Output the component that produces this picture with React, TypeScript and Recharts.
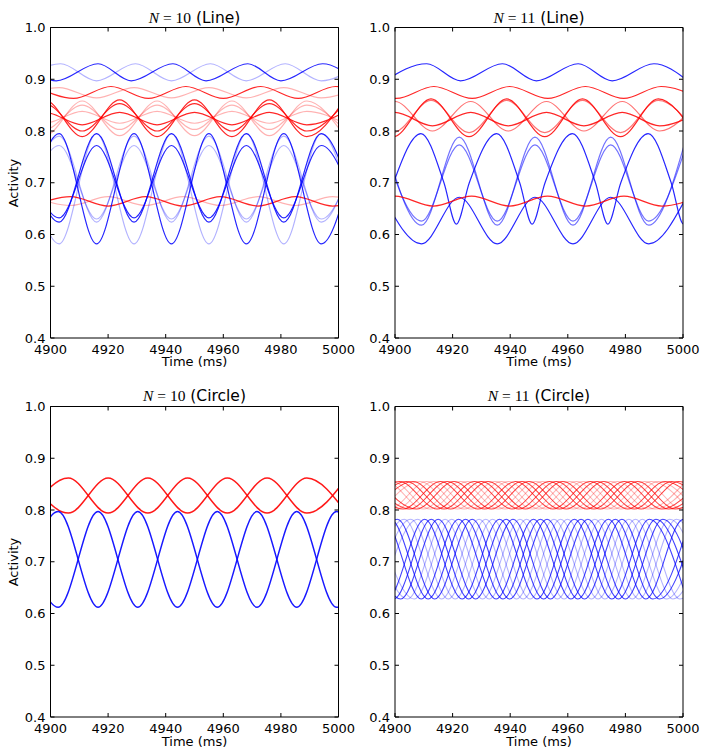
import React from "react";
import { LineChart, Line, XAxis, YAxis } from "recharts";

type Pt = [number, number];

// ---------------- axis ticks ----------------
const X_TICKS = [4900, 4920, 4940, 4960, 4980, 5000];
const Y_TICKS = [0.4, 0.5, 0.6, 0.7, 0.8, 0.9, 1.0];

// ---------------- N=10 (Line) ----------------
const TL_BLUE_TOP_DARK: Pt[] = [[4890.5,0.930],[4902,0.897],[4916.5,0.930],[4928,0.897],[4942.5,0.930],[4954,0.897],[4968.5,0.930],[4980,0.897],[4994.5,0.930],[5006,0.897]];
const TL_BLUE_TOP_LIGHT: Pt[] = [[4890,0.897],[4903.5,0.930],[4916,0.897],[4929.5,0.930],[4942,0.897],[4955.5,0.930],[4968,0.897],[4981.5,0.930],[4994,0.897],[5007.5,0.930]];
const TL_RED_TOP_DARK: Pt[] = [[4895,0.886],[4908,0.863],[4921,0.886],[4934,0.863],[4947,0.886],[4960,0.863],[4973,0.886],[4986,0.863],[4999,0.886],[5012,0.863]];
const TL_RED_TOP_LIGHT: Pt[] = [[4890,0.864],[4903,0.884],[4916,0.864],[4929,0.884],[4942,0.864],[4955,0.884],[4968,0.864],[4981,0.884],[4994,0.864],[5007,0.884]];
const TL_RED_MID_DARK_1: Pt[] = [[4885,0.789],[4898,0.860],[4911,0.789],[4924,0.860],[4937,0.789],[4950,0.860],[4963,0.789],[4976,0.860],[4989,0.789],[5002,0.860]];
const TL_RED_MID_DARK_2: Pt[] = [[4885,0.800],[4898,0.853],[4911,0.800],[4924,0.853],[4937,0.800],[4950,0.853],[4963,0.800],[4976,0.853],[4989,0.800],[5002,0.853]];
const TL_RED_MID_DARK_3: Pt[] = [[4885,0.812],[4898,0.836],[4911,0.812],[4924,0.836],[4937,0.812],[4950,0.836],[4963,0.812],[4976,0.836],[4989,0.812],[5002,0.836]];
const TL_RED_MID_LIGHT_1: Pt[] = [[4885,0.858],[4898,0.791],[4911,0.858],[4924,0.791],[4937,0.858],[4950,0.791],[4963,0.858],[4976,0.791],[4989,0.858],[5002,0.791]];
const TL_RED_MID_LIGHT_2: Pt[] = [[4885,0.850],[4898,0.803],[4911,0.850],[4924,0.803],[4937,0.850],[4950,0.803],[4963,0.850],[4976,0.803],[4989,0.850],[5002,0.803]];
const TL_RED_MID_LIGHT_3: Pt[] = [[4885,0.838],[4898,0.815],[4911,0.838],[4924,0.815],[4937,0.838],[4950,0.815],[4963,0.838],[4976,0.815],[4989,0.838],[5002,0.815]];
const TL_RED_BOT_DARK: Pt[] = [[4894,0.655],[4907,0.673],[4920,0.655],[4933,0.673],[4946,0.655],[4959,0.673],[4972,0.655],[4985,0.673],[4998,0.655],[5011,0.673]];
const TL_RED_BOT_LIGHT: Pt[] = [[4894,0.673],[4907,0.656],[4920,0.673],[4933,0.656],[4946,0.673],[4959,0.656],[4972,0.673],[4985,0.656],[4998,0.673],[5011,0.656]];
const TL_BLUE_BIG_DARK: Pt[] = [[4890,0.582],[4903,0.795],[4916,0.582],[4929,0.795],[4942,0.582],[4955,0.795],[4968,0.582],[4981,0.795],[4994,0.582],[5007,0.795]];
const TL_BLUE_MED_DARK: Pt[] = [[4890,0.795],[4903,0.624],[4916,0.795],[4929,0.624],[4942,0.795],[4955,0.624],[4968,0.795],[4981,0.624],[4994,0.795],[5007,0.624]];
const TL_BLUE_SMALL_DARK: Pt[] = [[4890,0.772],[4903,0.632],[4916,0.772],[4929,0.632],[4942,0.772],[4955,0.632],[4968,0.772],[4981,0.632],[4994,0.772],[5007,0.632]];
const TL_BLUE_BIG_LIGHT: Pt[] = [[4890,0.795],[4903,0.582],[4916,0.795],[4929,0.582],[4942,0.795],[4955,0.582],[4968,0.795],[4981,0.582],[4994,0.795],[5007,0.582]];
const TL_BLUE_MED_LIGHT: Pt[] = [[4890,0.624],[4903,0.790],[4916,0.624],[4929,0.790],[4942,0.624],[4955,0.790],[4968,0.624],[4981,0.790],[4994,0.624],[5007,0.790]];
const TL_BLUE_SMALL_LIGHT: Pt[] = [[4890,0.630],[4903,0.772],[4916,0.630],[4929,0.772],[4942,0.630],[4955,0.772],[4968,0.630],[4981,0.772],[4994,0.630],[5007,0.772]];

// ---------------- N=11 (Line) ----------------
const TR_BLUE_TOP: Pt[] = [[4896.5,0.897],[4911,0.930],[4922.8,0.897],[4937.3,0.930],[4949.1,0.897],[4963.6,0.930],[4975.4,0.897],[4989.9,0.930],[5001.7,0.897]];
const TR_BLUE_DOME: Pt[] = [[4895,0.620],[4899.5,0.700],[4909,0.795],[4917,0.700],[4921.3,0.620],[4925.8,0.700],[4935.3,0.795],[4943.3,0.700],[4947.6,0.620],[4952.1,0.700],[4961.6,0.795],[4969.6,0.700],[4973.9,0.620],[4978.4,0.700],[4987.9,0.795],[4995.9,0.700],[5000.2,0.620],[5004.7,0.700]];
const TR_BLUE_SMALL_1: Pt[] = [[4896,0.788],[4909.2,0.618],[4922.3,0.788],[4935.5,0.618],[4948.6,0.788],[4961.8,0.618],[4974.9,0.788],[4988.1,0.618],[5001.2,0.788]];
const TR_BLUE_SMALL_2: Pt[] = [[4896,0.773],[4909.2,0.626],[4922.3,0.773],[4935.5,0.626],[4948.6,0.773],[4961.8,0.626],[4974.9,0.773],[4988.1,0.626],[5001.2,0.773]];
const TR_BLUE_BOTTOM: Pt[] = [[4896,0.672],[4909.2,0.582],[4922.3,0.672],[4935.5,0.582],[4948.6,0.672],[4961.8,0.582],[4974.9,0.672],[4988.1,0.582],[5001.2,0.672]];
const TR_RED_TOP: Pt[] = [[4887.2,0.886],[4900.5,0.863],[4913.5,0.886],[4926.8,0.863],[4939.8,0.886],[4953.1,0.863],[4966.1,0.886],[4979.4,0.863],[4992.4,0.886],[5005.7,0.863]];
const TR_RED_DOME_DARK: Pt[] = [[4886.2,0.862],[4899.4,0.789],[4912.5,0.862],[4925.7,0.789],[4938.8,0.862],[4952,0.789],[4965.1,0.862],[4978.3,0.789],[4991.4,0.862],[5004.6,0.789]];
const TR_RED_DOME_LIGHT: Pt[] = [[4886.2,0.859],[4899.4,0.797],[4912.5,0.859],[4925.7,0.797],[4938.8,0.859],[4952,0.797],[4965.1,0.859],[4978.3,0.797],[4991.4,0.859],[5004.6,0.797]];
const TR_RED_ANTI_DARK: Pt[] = [[4887,0.810],[4900,0.836],[4913,0.810],[4926.3,0.836],[4939.3,0.810],[4952.6,0.836],[4965.6,0.810],[4978.9,0.836],[4991.9,0.810],[5005.2,0.836]];
const TR_RED_ANTI_LIGHT: Pt[] = [[4887,0.800],[4900,0.857],[4913,0.800],[4926.3,0.857],[4939.3,0.800],[4952.6,0.857],[4965.6,0.800],[4978.9,0.857],[4991.9,0.800],[5005.2,0.857]];
const TR_RED_BOTTOM: Pt[] = [[4887,0.655],[4900,0.674],[4913.3,0.655],[4926.6,0.674],[4939.8,0.655],[4953,0.674],[4966.2,0.655],[4979.5,0.674],[4992.7,0.655],[5006,0.674]];

// ---------------- N=10 (Circle) ----------------
const BL_RED_A: Pt[] = [[4892.4,0.794],[4906.2,0.862],[4920,0.794],[4933.8,0.862],[4947.6,0.794],[4961.4,0.862],[4975.2,0.794],[4989,0.862],[5002.8,0.794]];
const BL_RED_B: Pt[] = [[4892.4,0.862],[4906.2,0.794],[4920,0.862],[4933.8,0.794],[4947.6,0.862],[4961.4,0.794],[4975.2,0.862],[4989,0.794],[5002.8,0.862]];
const BL_BLUE_A: Pt[] = [[4888.9,0.612],[4902.7,0.797],[4916.5,0.612],[4930.3,0.797],[4944.1,0.612],[4957.9,0.797],[4971.7,0.612],[4985.5,0.797],[4999.3,0.612],[5013.1,0.797]];
const BL_BLUE_B: Pt[] = [[4888.9,0.797],[4902.7,0.612],[4916.5,0.797],[4930.3,0.612],[4944.1,0.797],[4957.9,0.612],[4971.7,0.797],[4985.5,0.612],[4999.3,0.797],[5013.1,0.612]];

// ---------------- N=11 (Circle) ----------------
const BR_BLUE: Pt[][] = [
  [[4889.0,0.782],[4902.0,0.628],[4915.0,0.782],[4928.0,0.628],[4941.0,0.782],[4954.0,0.628],[4967.0,0.782],[4980.0,0.628],[4993.0,0.782],[5006.0,0.628]],
  [[4891.4,0.782],[4904.4,0.628],[4917.4,0.782],[4930.4,0.628],[4943.4,0.782],[4956.4,0.628],[4969.4,0.782],[4982.4,0.628],[4995.4,0.782],[5008.4,0.628]],
  [[4893.7,0.782],[4906.7,0.628],[4919.7,0.782],[4932.7,0.628],[4945.7,0.782],[4958.7,0.628],[4971.7,0.782],[4984.7,0.628],[4997.7,0.782],[5010.7,0.628]],
  [[4883.1,0.628],[4896.1,0.782],[4909.1,0.628],[4922.1,0.782],[4935.1,0.628],[4948.1,0.782],[4961.1,0.628],[4974.1,0.782],[4987.1,0.628],[5000.1,0.782],[5013.1,0.628]],
  [[4885.5,0.628],[4898.5,0.782],[4911.5,0.628],[4924.5,0.782],[4937.5,0.628],[4950.5,0.782],[4963.5,0.628],[4976.5,0.782],[4989.5,0.628],[5002.5,0.782]],
  [[4887.8,0.628],[4900.8,0.782],[4913.8,0.628],[4926.8,0.782],[4939.8,0.628],[4952.8,0.782],[4965.8,0.628],[4978.8,0.782],[4991.8,0.628],[5004.8,0.782]],
  [[4890.2,0.628],[4903.2,0.782],[4916.2,0.628],[4929.2,0.782],[4942.2,0.628],[4955.2,0.782],[4968.2,0.628],[4981.2,0.782],[4994.2,0.628],[5007.2,0.782]],
  [[4892.5,0.628],[4905.5,0.782],[4918.5,0.628],[4931.5,0.782],[4944.5,0.628],[4957.5,0.782],[4970.5,0.628],[4983.5,0.782],[4996.5,0.628],[5009.5,0.782]],
  [[4894.9,0.628],[4907.9,0.782],[4920.9,0.628],[4933.9,0.782],[4946.9,0.628],[4959.9,0.782],[4972.9,0.628],[4985.9,0.782],[4998.9,0.628],[5011.9,0.782]],
  [[4884.3,0.782],[4897.3,0.628],[4910.3,0.782],[4923.3,0.628],[4936.3,0.782],[4949.3,0.628],[4962.3,0.782],[4975.3,0.628],[4988.3,0.782],[5001.3,0.628]],
  [[4886.6,0.782],[4899.6,0.628],[4912.6,0.782],[4925.6,0.628],[4938.6,0.782],[4951.6,0.628],[4964.6,0.782],[4977.6,0.628],[4990.6,0.782],[5003.6,0.628]],
];
const BR_RED: Pt[][] = [
  [[4894.5,0.855],[4907.5,0.802],[4920.5,0.855],[4933.5,0.802],[4946.5,0.855],[4959.5,0.802],[4972.5,0.855],[4985.5,0.802],[4998.5,0.855],[5011.5,0.802]],
  [[4883.9,0.802],[4896.9,0.855],[4909.9,0.802],[4922.9,0.855],[4935.9,0.802],[4948.9,0.855],[4961.9,0.802],[4974.9,0.855],[4987.9,0.802],[5000.9,0.855]],
  [[4886.2,0.802],[4899.2,0.855],[4912.2,0.802],[4925.2,0.855],[4938.2,0.802],[4951.2,0.855],[4964.2,0.802],[4977.2,0.855],[4990.2,0.802],[5003.2,0.855]],
  [[4888.6,0.802],[4901.6,0.855],[4914.6,0.802],[4927.6,0.855],[4940.6,0.802],[4953.6,0.855],[4966.6,0.802],[4979.6,0.855],[4992.6,0.802],[5005.6,0.855]],
  [[4891.0,0.802],[4904.0,0.855],[4917.0,0.802],[4930.0,0.855],[4943.0,0.802],[4956.0,0.855],[4969.0,0.802],[4982.0,0.855],[4995.0,0.802],[5008.0,0.855]],
  [[4893.3,0.802],[4906.3,0.855],[4919.3,0.802],[4932.3,0.855],[4945.3,0.802],[4958.3,0.855],[4971.3,0.802],[4984.3,0.855],[4997.3,0.802],[5010.3,0.855]],
  [[4895.7,0.802],[4908.7,0.855],[4921.7,0.802],[4934.7,0.855],[4947.7,0.802],[4960.7,0.855],[4973.7,0.802],[4986.7,0.855],[4999.7,0.802],[5012.7,0.855]],
  [[4885.0,0.855],[4898.0,0.802],[4911.0,0.855],[4924.0,0.802],[4937.0,0.855],[4950.0,0.802],[4963.0,0.855],[4976.0,0.802],[4989.0,0.855],[5002.0,0.802]],
  [[4887.4,0.855],[4900.4,0.802],[4913.4,0.855],[4926.4,0.802],[4939.4,0.855],[4952.4,0.802],[4965.4,0.855],[4978.4,0.802],[4991.4,0.855],[5004.4,0.802]],
  [[4889.8,0.855],[4902.8,0.802],[4915.8,0.855],[4928.8,0.802],[4941.8,0.855],[4954.8,0.802],[4967.8,0.855],[4980.8,0.802],[4993.8,0.855],[5006.8,0.802]],
  [[4892.1,0.855],[4905.1,0.802],[4918.1,0.855],[4931.1,0.802],[4944.1,0.855],[4957.1,0.802],[4970.1,0.855],[4983.1,0.802],[4996.1,0.855],[5009.1,0.802]],
];
// which of the N=11 circle units are drawn in the darker shade
const BR_DARK_UNITS = [0, 3, 4, 5, 9, 10];

// ---------------- styles ----------------
const BLUE = "#0000ff";
const RED = "#ff0000";
const DARK = 0.85;
const MEDIUM = 0.55;
const LIGHT = 0.3;
const FONT = "'DejaVu Sans', sans-serif";

type Series = { pts: Pt[]; color: string; opacity: number };

const s = (pts: Pt[], color: string, opacity: number): Series => ({ pts, color, opacity });

const TL_SERIES: Series[] = [
  s(TL_BLUE_TOP_LIGHT, BLUE, LIGHT),
  s(TL_RED_TOP_LIGHT, RED, LIGHT),
  s(TL_RED_MID_LIGHT_1, RED, LIGHT),
  s(TL_RED_MID_LIGHT_2, RED, LIGHT),
  s(TL_RED_MID_LIGHT_3, RED, LIGHT),
  s(TL_RED_BOT_LIGHT, RED, LIGHT),
  s(TL_BLUE_BIG_LIGHT, BLUE, LIGHT),
  s(TL_BLUE_MED_LIGHT, BLUE, LIGHT),
  s(TL_BLUE_SMALL_LIGHT, BLUE, LIGHT),
  s(TL_BLUE_TOP_DARK, BLUE, DARK),
  s(TL_RED_TOP_DARK, RED, DARK),
  s(TL_RED_MID_DARK_1, RED, DARK),
  s(TL_RED_MID_DARK_2, RED, DARK),
  s(TL_RED_MID_DARK_3, RED, DARK),
  s(TL_RED_BOT_DARK, RED, DARK),
  s(TL_BLUE_BIG_DARK, BLUE, DARK),
  s(TL_BLUE_MED_DARK, BLUE, DARK),
  s(TL_BLUE_SMALL_DARK, BLUE, DARK),
];

const TR_SERIES: Series[] = [
  s(TR_RED_DOME_LIGHT, RED, MEDIUM),
  s(TR_RED_ANTI_LIGHT, RED, MEDIUM),
  s(TR_BLUE_SMALL_2, BLUE, MEDIUM),
  s(TR_BLUE_SMALL_1, BLUE, MEDIUM),
  s(TR_BLUE_TOP, BLUE, DARK),
  s(TR_BLUE_DOME, BLUE, DARK),
  s(TR_BLUE_BOTTOM, BLUE, DARK),
  s(TR_RED_TOP, RED, DARK),
  s(TR_RED_DOME_DARK, RED, DARK),
  s(TR_RED_ANTI_DARK, RED, DARK),
  s(TR_RED_BOTTOM, RED, DARK),
];

const BL_SERIES: Series[] = [
  s(BL_RED_A, RED, 0.9),
  s(BL_RED_B, RED, 0.9),
  s(BL_BLUE_A, BLUE, 0.9),
  s(BL_BLUE_B, BLUE, 0.9),
];

const BR_SERIES: Series[] = [
  ...BR_RED.map((p, i) => s(p, RED, BR_DARK_UNITS.includes(i) ? 0.75 : LIGHT)),
  ...BR_BLUE.map((p, i) => s(p, BLUE, BR_DARK_UNITS.includes(i) ? 0.75 : LIGHT)),
];

// ---------------- ticks ----------------
const LeftTick = (props: any) => {
  const { x, y, payload } = props;
  return (
    <g>
      <line x1={x} y1={y} x2={x + 4} y2={y} stroke="#000" strokeWidth={1} />
      <text x={x - 5} y={y + 4.7} textAnchor="end" fontSize={13} fontFamily={FONT} fill="#000">
        {Number(payload.value).toFixed(1)}
      </text>
    </g>
  );
};
const RightTick = (props: any) => {
  const { x, y } = props;
  return <line x1={x} y1={y} x2={x - 4} y2={y} stroke="#000" strokeWidth={1} />;
};
const BottomTick = (props: any) => {
  const { x, y, payload } = props;
  return (
    <g>
      <line x1={x} y1={y} x2={x} y2={y - 4} stroke="#000" strokeWidth={1} />
      <text x={x} y={y + 16} textAnchor="middle" fontSize={13} fontFamily={FONT} fill="#000">
        {payload.value}
      </text>
    </g>
  );
};
const TopTick = (props: any) => {
  const { x, y } = props;
  return <line x1={x} y1={y} x2={x} y2={y + 4} stroke="#000" strokeWidth={1} />;
};

type PanelProps = {
  left: number;
  top: number;
  width: number;
  height: number;
  margin: { top: number; right: number; bottom: number; left: number };
  series: Series[];
  strokeWidth: number;
};

function Panel({ left, top, width, height, margin, series, strokeWidth }: PanelProps) {
  return (
    <div style={{ position: "absolute", left, top, width, height }}>
      <LineChart width={width} height={height} margin={margin}>
        <XAxis xAxisId="b" type="number" dataKey="t" domain={[4900, 5000]} ticks={X_TICKS} interval={0}
          allowDataOverflow orientation="bottom" height={1} tickLine={false} tickSize={0} tickMargin={0}
          axisLine={{ stroke: "#000" }} tick={BottomTick} />
        <XAxis xAxisId="t" type="number" dataKey="t" domain={[4900, 5000]} ticks={X_TICKS} interval={0}
          allowDataOverflow orientation="top" height={1} tickLine={false} tickSize={0} tickMargin={0}
          axisLine={{ stroke: "#000" }} tick={TopTick} />
        <YAxis yAxisId="l" type="number" domain={[0.4, 1.0]} ticks={Y_TICKS} interval={0}
          allowDataOverflow orientation="left" width={1} tickLine={false} tickSize={0} tickMargin={0}
          axisLine={{ stroke: "#000" }} tick={LeftTick} />
        <YAxis yAxisId="r" type="number" domain={[0.4, 1.0]} ticks={Y_TICKS} interval={0}
          allowDataOverflow orientation="right" width={1} tickLine={false} tickSize={0} tickMargin={0}
          axisLine={{ stroke: "#000" }} tick={RightTick} />
        {series.map((sr, i) => (
          <Line key={i} xAxisId="b" yAxisId="l" data={sr.pts.map(([t, v]) => ({ t, v }))} dataKey="v"
            type="monotone" stroke={sr.color} strokeOpacity={sr.opacity} strokeWidth={strokeWidth}
            dot={false} activeDot={false} isAnimationActive={false} />
        ))}
      </LineChart>
    </div>
  );
}

function Title({ x, y, n, kind }: { x: number; y: number; n: string; kind: string }) {
  return (
    <text x={x} y={y} textAnchor="middle" fontSize={15.5} fill="#000">
      <tspan fontFamily="'Liberation Serif', serif" fontStyle="italic">N</tspan>
      <tspan fontFamily="'Liberation Serif', serif">{" = " + n}</tspan>
      <tspan fontFamily={FONT}>{" (" + kind + ")"}</tspan>
    </text>
  );
}

export default function App() {
  return (
    <div style={{ position: "absolute", left: 0, top: 0, width: 701, height: 751, background: "#fff" }}>
      <Panel left={0} top={0} width={380} height={375} strokeWidth={1.2}
        margin={{ top: 26.5, right: 40.5, bottom: 36, left: 49.5 }} series={TL_SERIES} />
      <Panel left={350} top={0} width={351} height={375} strokeWidth={1.2}
        margin={{ top: 26.5, right: 17, bottom: 36, left: 44 }} series={TR_SERIES} />
      <Panel left={0} top={375} width={380} height={376} strokeWidth={1.5}
        margin={{ top: 30.5, right: 40.5, bottom: 33, left: 49.5 }} series={BL_SERIES} />
      <Panel left={350} top={375} width={351} height={376} strokeWidth={1.1}
        margin={{ top: 30.5, right: 17, bottom: 33, left: 44 }} series={BR_SERIES} />
      <svg width={701} height={751} style={{ position: "absolute", left: 0, top: 0, pointerEvents: "none" }}>
        <Title x={194.5} y={22.5} n="10" kind="Line" />
        <Title x={539} y={22.5} n="11" kind="Line" />
        <Title x={194.5} y={400.5} n="10" kind="Circle" />
        <Title x={539} y={400.5} n="11" kind="Circle" />
        <text x={194.5} y={366} textAnchor="middle" fontSize={13} fontFamily={FONT} fill="#000">Time (ms)</text>
        <text x={539} y={366} textAnchor="middle" fontSize={13} fontFamily={FONT} fill="#000">Time (ms)</text>
        <text x={194.5} y={746} textAnchor="middle" fontSize={13} fontFamily={FONT} fill="#000">Time (ms)</text>
        <text x={539} y={746} textAnchor="middle" fontSize={13} fontFamily={FONT} fill="#000">Time (ms)</text>
        <text x={18} y={183} textAnchor="middle" fontSize={13} fontFamily={FONT} fill="#000" transform="rotate(-90 18 183)">Activity</text>
        <text x={18} y={562} textAnchor="middle" fontSize={13} fontFamily={FONT} fill="#000" transform="rotate(-90 18 562)">Activity</text>
      </svg>
    </div>
  );
}
